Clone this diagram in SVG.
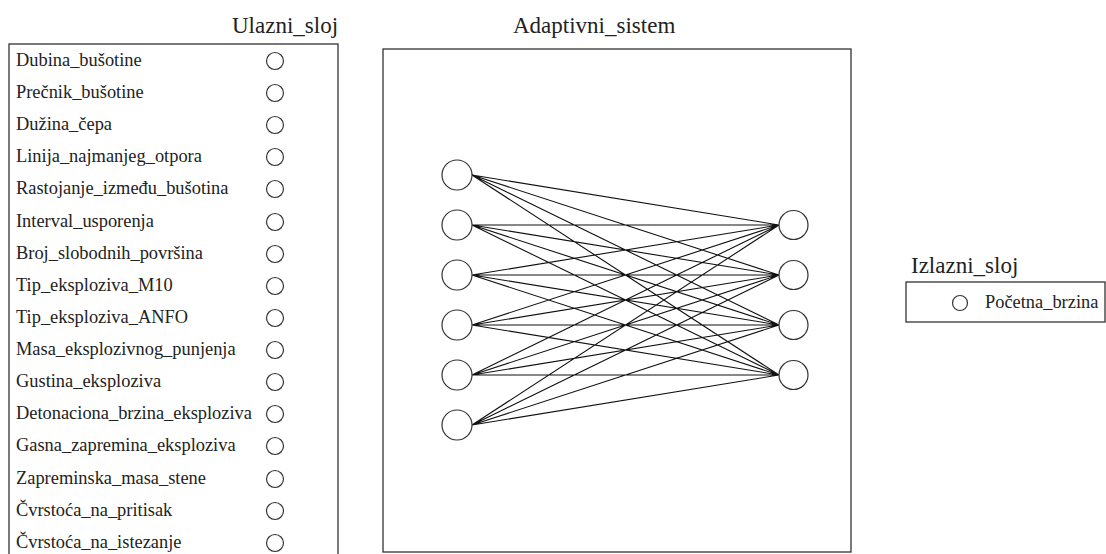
<svg xmlns="http://www.w3.org/2000/svg" width="1106" height="554" viewBox="0 0 1106 554">
<style>
.title{font-family:"Liberation Serif","Times New Roman",serif;font-size:23px;fill:#222}
.lbl{font-family:"Liberation Serif","Times New Roman",serif;font-size:18.4px;fill:#222}
.box{fill:none;stroke:#333;stroke-width:1.3}
.node{fill:#fff;stroke:#333;stroke-width:1.2}
.edge{stroke:#111;stroke-width:1.1;fill:none}
</style>
<rect width="1106" height="554" fill="#fff"/>
<g id="input-layer">
<text class="title" x="232" y="33">Ulazni_sloj</text>
<rect class="box" x="9" y="44" width="329" height="520"/>
<g id="in1"><text class="lbl" x="16" y="66">Dubina_bušotine</text><circle class="node" cx="275" cy="61" r="8.5"/></g>
<g id="in2"><text class="lbl" x="16" y="98">Prečnik_bušotine</text><circle class="node" cx="275" cy="93" r="8.5"/></g>
<g id="in3"><text class="lbl" x="16" y="130">Dužina_čepa</text><circle class="node" cx="275" cy="125" r="8.5"/></g>
<g id="in4"><text class="lbl" x="16" y="162">Linija_najmanjeg_otpora</text><circle class="node" cx="275" cy="157" r="8.5"/></g>
<g id="in5"><text class="lbl" x="16" y="194">Rastojanje_između_bušotina</text><circle class="node" cx="275" cy="189" r="8.5"/></g>
<g id="in6"><text class="lbl" x="16" y="227">Interval_usporenja</text><circle class="node" cx="275" cy="222" r="8.5"/></g>
<g id="in7"><text class="lbl" x="16" y="259">Broj_slobodnih_površina</text><circle class="node" cx="275" cy="254" r="8.5"/></g>
<g id="in8"><text class="lbl" x="16" y="291">Tip_eksploziva_M10</text><circle class="node" cx="275" cy="286" r="8.5"/></g>
<g id="in9"><text class="lbl" x="16" y="323">Tip_eksploziva_ANFO</text><circle class="node" cx="275" cy="318" r="8.5"/></g>
<g id="in10"><text class="lbl" x="16" y="355">Masa_eksplozivnog_punjenja</text><circle class="node" cx="275" cy="350" r="8.5"/></g>
<g id="in11"><text class="lbl" x="16" y="387">Gustina_eksploziva</text><circle class="node" cx="275" cy="382" r="8.5"/></g>
<g id="in12"><text class="lbl" x="16" y="419">Detonaciona_brzina_eksploziva</text><circle class="node" cx="275" cy="414" r="8.5"/></g>
<g id="in13"><text class="lbl" x="16" y="451">Gasna_zapremina_eksploziva</text><circle class="node" cx="275" cy="446" r="8.5"/></g>
<g id="in14"><text class="lbl" x="16" y="484">Zapreminska_masa_stene</text><circle class="node" cx="275" cy="479" r="8.5"/></g>
<g id="in15"><text class="lbl" x="16" y="516">Čvrstoća_na_pritisak</text><circle class="node" cx="275" cy="511" r="8.5"/></g>
<g id="in16"><text class="lbl" x="16" y="548">Čvrstoća_na_istezanje</text><circle class="node" cx="275" cy="543" r="8.5"/></g>
</g>
<g id="adaptive-system">
<text class="title" x="513" y="33">Adaptivni_sistem</text>
<rect class="box" x="383" y="49" width="468" height="503"/>
</g>
<g id="connectors">
<path class="edge" d="M472 175L779 225M472 175L779 275M472 175L779 325M472 175L779 375
M472 225L779 225M472 225L779 275M472 225L779 325M472 225L779 375
M472 275L779 225M472 275L779 275M472 275L779 325M472 275L779 375
M472 325L779 225M472 325L779 275M472 325L779 325M472 325L779 375
M472 375L779 225M472 375L779 275M472 375L779 325M472 375L779 375
M472 425L779 225M472 425L779 275M472 425L779 325M472 425L779 375"/>
</g>
<g id="hidden-a">
<circle id="h1" class="node" cx="457" cy="175" r="15"/>
<circle id="h2" class="node" cx="457" cy="225" r="15"/>
<circle id="h3" class="node" cx="457" cy="275" r="15"/>
<circle id="h4" class="node" cx="457" cy="325" r="15"/>
<circle id="h5" class="node" cx="457" cy="375" r="15"/>
<circle id="h6" class="node" cx="457" cy="425" r="15"/>
</g>
<g id="hidden-b">
<circle id="k1" class="node" cx="793.5" cy="225" r="14.5"/>
<circle id="k2" class="node" cx="793.5" cy="275" r="14.5"/>
<circle id="k3" class="node" cx="793.5" cy="325" r="14.5"/>
<circle id="k4" class="node" cx="793.5" cy="375" r="14.5"/>
</g>
<g id="output-layer">
<text class="title" x="911" y="273">Izlazni_sloj</text>
<rect class="box" x="906" y="282" width="199" height="40"/>
<g id="out1"><circle class="node" cx="960" cy="303" r="7.5"/><text class="lbl" x="985" y="308">Početna_brzina</text></g>
</g>
</svg>
